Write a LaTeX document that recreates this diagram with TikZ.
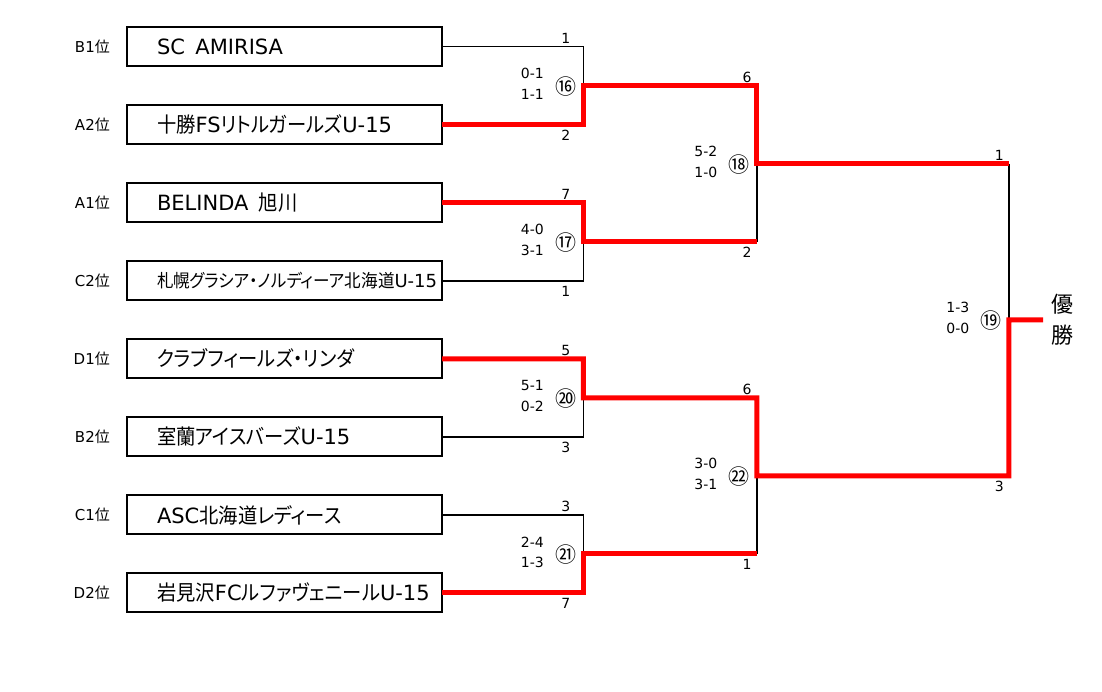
\documentclass[tikz,border=0pt]{standalone}
\usepackage{fontspec}
\setmainfont{DejaVu Sans}
\newfontfamily\jpfont{Noto Sans CJK JP}[RawFeature=+palt]
\newfontfamily\jpteamfont{Noto Sans CJK JP}[RawFeature=+palt, FakeStretch=0.92]
\usepackage{tikz}
\usetikzlibrary{positioning, calc}
\definecolor{winred}{RGB}{255,0,0}

%% Japanese characters switch to the CJK font on their own
\newXeTeXintercharclass\jpclass
\newcommand\setjpclass[2]{\count255=#1\relax
  \loop\XeTeXcharclass\count255=\jpclass
  \ifnum\count255<#2\relax\advance\count255 by 1\repeat}
\setjpclass{"2460}{"24FF}
\setjpclass{"3000}{"30FF}
\setjpclass{"3200}{"32FF}
\setjpclass{"4E00}{"9FFF}
\setjpclass{"FF00}{"FFEF}
\XeTeXinterchartoks 0 \jpclass = {\begingroup\jpfont}
\XeTeXinterchartoks 4095 \jpclass = {\begingroup\jpfont}
\XeTeXinterchartoks \jpclass 0 = {\endgroup}
\XeTeXinterchartoks \jpclass 4095 = {\endgroup}
\XeTeXinterchartokenstate=1
\exhyphenpenalty=10000
\hyphenpenalty=10000

\begin{document}
\begin{tikzpicture}[
  x=1pt, y=-1pt,
  node distance = 39.05pt and 15pt,
  team/.style   = {rectangle, draw=black, line width=2pt, outer sep=0pt,
                   minimum width=315pt, minimum height=39pt, text width=255pt,
                   inner xsep=30pt, align=left,
                   font=\fontsize{21}{25}\selectfont\let\jpfont\jpteamfont},
  longteam/.style = {team, font=\fontsize{18}{21}\selectfont\let\jpfont\jpteamfont},
  rank/.style   = {font=\fontsize{15}{18}\selectfont, inner sep=2pt},
  pts/.style    = {font=\fontsize{14}{16}\selectfont, inner sep=0pt},
  score/.style  = {pts},
  gameno/.style = {font=\fontsize{21}{22}\selectfont, inner sep=0pt},
  champ/.style  = {align=center, font=\fontsize{22}{31}\selectfont,
                   inner xsep=8pt, inner ysep=0pt, outer sep=0pt},
  lose/.style   = {line width=1.6pt, black},
  win/.style    = {line width=5pt, winred},
]
\useasboundingbox (0,0) rectangle (1102,692);

%% --- Teams ---
\node[team] (t1) at (284.5,46.6) {SC\enspace AMIRISA};
\node[team, below=of t1] (t2) {十勝FSリトルガールズU-15};
\node[team, below=of t2] (t3) {BELINDA\enspace 旭川};
\node[longteam, below=of t3] (t4) {札幌グラシア・ノルディーア北海道U-15};
\node[team, below=of t4] (t5) {クラブフィールズ・リンダ};
\node[team, below=of t5] (t6) {室蘭アイスバーズU-15};
\node[team, below=of t6] (t7) {ASC北海道レディース};
\node[team, below=of t7] (t8) {岩見沢FCルファヴェニールU-15};

%% --- Group ranks ---
\foreach \r [count=\i] in {B1,A2,A1,C2,D1,B2,C1,D2}
  \node[rank, left=of t\i] (r\i) {\r 位};

%% --- Match joints ---
\coordinate (m16) at (583.3,85.6);
\coordinate (m17) at (583.3,241.7);
\coordinate (m20) at (583.3,397.8);
\coordinate (m21) at (583.3,553.9);
\coordinate (m18) at (756.8,163.7);
\coordinate (m22) at (756.8,475.9);
\coordinate (m19) at (1008.8,319.8);

%% --- Champion ---
\node[champ, anchor=west] (champ) at (1043,320) {優\\勝};

%% --- Losing lines ---
\draw[lose] (t1.east) -| (m16);
\draw[lose] (t4.east) -| (m17);
\draw[lose] (t6.east) -| (m20);
\draw[lose] (t7.east) -| (m21);
\draw[lose] (m17 -| m18) -- (m18);
\draw[lose] (m21 -| m22) -- (m22);
\draw[lose] (m18 -| m19) -- (m19);

%% --- Winning lines ---
\draw[win] (t2.east) -| (m16) -| (m18) -- (m18 -| m19);
\draw[win] (t3.east) -| (m17) -- (m17 -| m18);
\draw[win] (t5.east) -| (m20) -| (m22) -| (m19) -- (champ.west);
\draw[win] (t8.east) -| (m21) -- (m21 -| m22);

%% --- Match scores and numbers ---
\foreach \m/\a/\b/\c in {m16/0-1/1-1/⑯, m17/4-0/3-1/⑰, m20/5-1/0-2/⑳, m21/2-4/1-3/㉑,
                         m18/5-2/1-0/⑱, m22/3-0/3-1/㉒, m19/1-3/0-0/⑲} {
  \node[score]  (a\m) at ([shift={(-51,-12)}]\m) {\a};
  \node[score]  (b\m) at ([shift={(-51,9)}]\m)   {\b};
  \node[gameno] (c\m) at ([shift={(-17.6,1)}]\m) {\c};
}

%% --- Points ---
\foreach \x/\y/\n [count=\i] in {565.7/38.6/1, 565.7/135.2/2, 565.7/194.7/7, 565.7/291.3/1,
                                 565.7/350.8/5, 565.7/447.4/3, 565.7/506.9/3, 565.7/603.5/7,
                                 747/77.6/6, 747/252.2/2, 747/389.8/6, 747/564.4/1,
                                 999.3/155.7/1, 999.3/486.4/3}
  \node[pts] (p\i) at (\x,\y) {\n};

\end{tikzpicture}
\end{document}
